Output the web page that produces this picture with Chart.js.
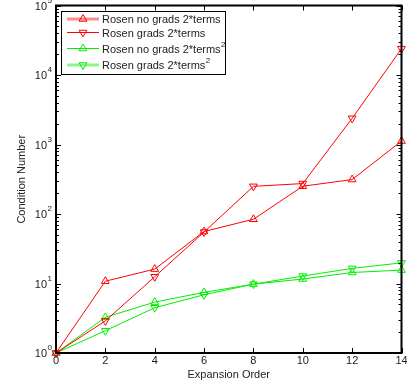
<!DOCTYPE html>
<html>
<head>
<meta charset="utf-8">
<script src="https://cdn.jsdelivr.net/npm/chart.js@4.4.1/dist/chart.umd.min.js"></script>
<style>
html, body { margin: 0; padding: 0; background: #fff; }
</style>
</head>
<body>
<canvas id="condChart" width="407" height="382"></canvas>
<script>
// expansion orders on the x axis
const orders = [0, 2, 4, 6, 8, 10, 12, 14];

// condition numbers
const noGradsTerms = [1, 10.8, 16.1, 56, 84, 251, 313, 1120];
const gradsTerms = [1, 2.9, 12.5, 55, 250, 274, 2380, 23900];
const noGradsTermsSq = [1, 3.26, 5.4, 7.45, 9.8, 11.6, 14.4, 15.6];
const gradsTermsSq = [1, 2.09, 4.48, 6.88, 9.8, 12.8, 16.5, 19.8];

const seriesLabels = [
    "Rosen no grads 2*terms",
    "Rosen grads 2*terms",
    "Rosen no grads 2*terms^2",
    "Rosen grads 2*terms^2"
];

const xTicks = [0, 2, 4, 6, 8, 10, 12, 14];
const yDecades = [0, 1, 2, 3, 4, 5];

const RED = '#ff0000';
const GREEN = '#00ee00';
const FONT = '"Liberation Sans", Arial, sans-serif';

function pts(values) {
    return orders.map((x, i) => ({ x: x, y: values[i] }));
}

function serie(label, values, color, rot) {
    return {
        label: label,
        data: pts(values),
        borderColor: color,
        backgroundColor: 'transparent',
        borderWidth: 1,
        pointStyle: 'triangle',
        pointRotation: rot,
        pointRadius: 4.5,
        pointBorderWidth: 1,
        pointBorderColor: color,
        pointBackgroundColor: 'transparent',
        tension: 0,
        clip: false,
    };
}

// draw a text with "^x" as superscript
function supText(ctx, txt, x, y, size) {
    const parts = txt.split('^');
    ctx.font = size + 'px ' + FONT;
    ctx.textAlign = 'left';
    ctx.textBaseline = 'middle';
    ctx.fillText(parts[0], x, y);
    if (parts.length > 1) {
        const w = ctx.measureText(parts[0]).width;
        ctx.font = (size - 3) + 'px ' + FONT;
        ctx.fillText(parts[1], x + w + 0.5, y - 5);
    }
}

function marker(ctx, x, y, color, down) {
    const r = 4.5;
    ctx.save();
    ctx.strokeStyle = color;
    ctx.lineWidth = 1;
    ctx.translate(x, y);
    if (down) ctx.rotate(Math.PI);
    ctx.beginPath();
    ctx.moveTo(0, -r);
    ctx.lineTo(r * 0.866, r * 0.5);
    ctx.lineTo(-r * 0.866, r * 0.5);
    ctx.closePath();
    ctx.stroke();
    ctx.restore();
}

// legend line looks (the first and last are drawn wide and pale in the original)
const legendLines = [
    { color: 'rgba(255,0,0,0.45)', width: 3 },
    { color: RED, width: 1 },
    { color: GREEN, width: 1 },
    { color: 'rgba(0,230,0,0.45)', width: 3 },
];

const matlabFrame = {
    id: 'matlabFrame',
    afterDraw(chart) {
        const ctx = chart.ctx;
        const a = chart.chartArea;
        const xs = chart.scales.x;
        const ys = chart.scales.y;
        ctx.save();

        // inward tick marks
        ctx.strokeStyle = '#000';
        ctx.lineWidth = 1;
        ctx.beginPath();
        for (const t of xTicks) {
            const px = Math.round(xs.getPixelForValue(t)) + 0.5;
            ctx.moveTo(px, a.bottom); ctx.lineTo(px, a.bottom - 5);
            ctx.moveTo(px, a.top); ctx.lineTo(px, a.top + 5);
        }
        for (const d of yDecades) {
            const py = Math.round(ys.getPixelForValue(Math.pow(10, d))) + 0.5;
            ctx.moveTo(a.left, py); ctx.lineTo(a.left + 5, py);
            ctx.moveTo(a.right, py); ctx.lineTo(a.right - 5, py);
            if (d < 5) {
                for (let m = 2; m <= 9; m++) {
                    const pm = Math.round(ys.getPixelForValue(m * Math.pow(10, d))) + 0.5;
                    ctx.moveTo(a.left, pm); ctx.lineTo(a.left + 3, pm);
                    ctx.moveTo(a.right, pm); ctx.lineTo(a.right - 3, pm);
                }
            }
        }
        ctx.stroke();

        // box
        ctx.lineWidth = 2;
        ctx.strokeRect(a.left, a.top, a.right - a.left, a.bottom - a.top);

        ctx.fillStyle = '#222';
        // x labels
        ctx.font = '11px ' + FONT;
        ctx.textAlign = 'center';
        ctx.textBaseline = 'middle';
        for (const t of xTicks) {
            ctx.fillText(String(t), xs.getPixelForValue(t), a.bottom + 8);
        }

        // y labels 10^n
        for (const d of yDecades) {
            const py = ys.getPixelForValue(Math.pow(10, d));
            ctx.font = '11px ' + FONT;
            ctx.textAlign = 'right';
            ctx.textBaseline = 'middle';
            ctx.fillText('10', a.left - 9, py + 1);
            ctx.font = '8px ' + FONT;
            ctx.textAlign = 'left';
            ctx.fillText(String(d), a.left - 8.5, py - 5);
        }

        // legend
        const lx = 61.5, ly = 11.5, lw = 164, lh = 63;
        ctx.fillStyle = '#fff';
        ctx.fillRect(lx, ly, lw, lh);
        ctx.lineWidth = 1;
        ctx.strokeStyle = '#000';
        ctx.strokeRect(lx, ly, lw, lh);
        const rowsY = [19, 32.5, 48.5, 65];
        chart.data.datasets.forEach((ds, i) => {
            const y = rowsY[i];
            ctx.strokeStyle = legendLines[i].color;
            ctx.lineWidth = legendLines[i].width;
            ctx.beginPath();
            ctx.moveTo(67, y); ctx.lineTo(99, y);
            ctx.stroke();
            marker(ctx, 83, y, ds.borderColor, ds.pointRotation === 180);
            ctx.fillStyle = '#222';
            supText(ctx, seriesLabels[i], 102, y + 1, 11);
        });

        ctx.restore();
    }
};

new Chart(document.getElementById('condChart'), {
    type: 'line',
    data: {
        datasets: [
            serie(seriesLabels[0], noGradsTerms, RED, 0),
            serie(seriesLabels[1], gradsTerms, RED, 180),
            serie(seriesLabels[2], noGradsTermsSq, GREEN, 0),
            serie(seriesLabels[3], gradsTermsSq, GREEN, 180),
        ]
    },
    options: {
        responsive: false,
        animation: false,
        events: [],
        layout: { padding: { top: 5, right: 1.5, left: 0, bottom: 0 } },
        plugins: {
            legend: { display: false },
            tooltip: { enabled: false },
        },
        scales: {
            x: {
                type: 'linear',
                min: 0,
                max: 14,
                grid: { display: false, drawTicks: false },
                border: { display: false },
                ticks: { display: false, stepSize: 2 },
                title: {
                    display: true,
                    text: 'Expansion Order',
                    color: '#222',
                    font: { family: FONT, size: 11 },
                    padding: { top: 0, bottom: 0 },
                },
                afterFit(s) {
                    s.height = 29;
                    s.paddingLeft = 0;
                    s.paddingRight = 0;
                },
            },
            y: {
                type: 'logarithmic',
                min: 1,
                max: 100000,
                grid: { display: false, drawTicks: false },
                border: { display: false },
                ticks: { display: false },
                title: {
                    display: true,
                    text: 'Condition Number',
                    color: '#222',
                    font: { family: FONT, size: 11 },
                    padding: { top: 15, bottom: 0 },
                },
                afterFit(s) {
                    s.width = 56;
                    s.paddingTop = 0;
                    s.paddingBottom = 0;
                },
            },
        },
    },
    plugins: [matlabFrame],
});
</script>
</body>
</html>
